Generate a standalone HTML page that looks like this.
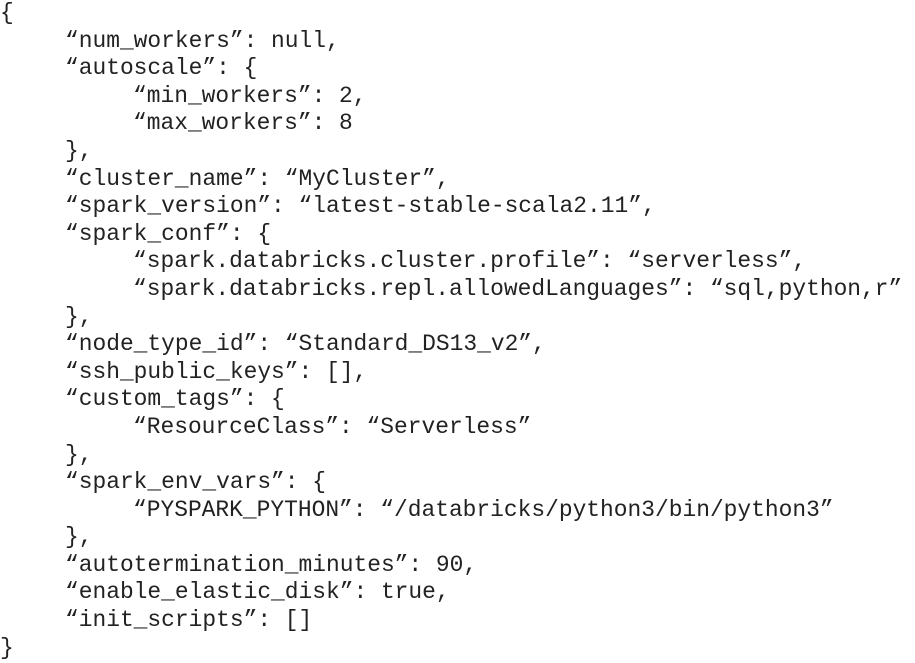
<!DOCTYPE html>
<html><head><meta charset="utf-8"><style>
html,body{margin:0;padding:0;background:#fff;width:915px;height:663px;overflow:hidden}
.c{position:absolute;top:0px;left:0;font-family:"Liberation Mono",monospace;font-size:22.9px;line-height:27.6px;color:#222}
.l{height:27.6px;white-space:pre}
.a{padding-left:65px}.b{padding-left:133px}
</style></head><body><div class="c">
<div class="l">{</div>
<div class="l a">“num_workers”: null,</div>
<div class="l a">“autoscale”: {</div>
<div class="l b">“min_workers”: 2,</div>
<div class="l b">“max_workers”: 8</div>
<div class="l a">},</div>
<div class="l a">“cluster_name”: “MyCluster”,</div>
<div class="l a">“spark_version”: “latest-stable-scala2.11”,</div>
<div class="l a">“spark_conf”: {</div>
<div class="l b">“spark.databricks.cluster.profile”: “serverless”,</div>
<div class="l b">“spark.databricks.repl.allowedLanguages”: “sql,python,r”</div>
<div class="l a">},</div>
<div class="l a">“node_type_id”: “Standard_DS13_v2”,</div>
<div class="l a">“ssh_public_keys”: [],</div>
<div class="l a">“custom_tags”: {</div>
<div class="l b">“ResourceClass”: “Serverless”</div>
<div class="l a">},</div>
<div class="l a">“spark_env_vars”: {</div>
<div class="l b">“PYSPARK_PYTHON”: “/databricks/python3/bin/python3”</div>
<div class="l a">},</div>
<div class="l a">“autotermination_minutes”: 90,</div>
<div class="l a">“enable_elastic_disk”: true,</div>
<div class="l a">“init_scripts”: []</div>
<div class="l">}</div>
</div></body></html>
